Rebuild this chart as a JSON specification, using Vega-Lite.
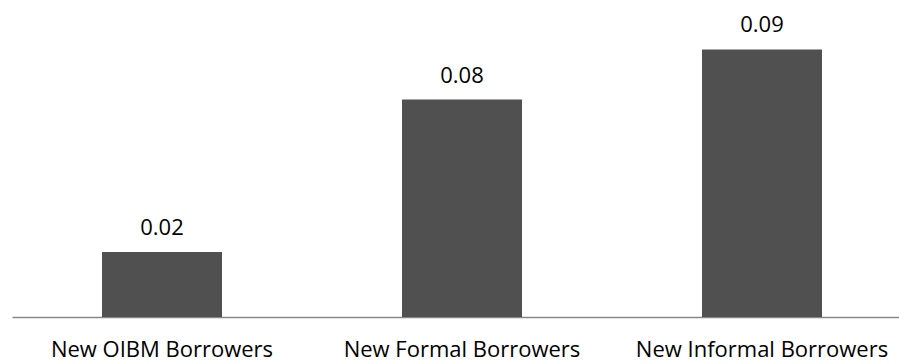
{
  "$schema": "https://vega.github.io/schema/vega-lite/v6.json",
  "autosize": {"type": "none"},
  "width": 900,
  "height": 285,
  "padding": {"left": 12, "top": 32, "right": 0, "bottom": 47},
  "background": "white",
  "config": {
    "view": {"stroke": null},
    "font": "Open Sans"
  },
  "data": {
    "values": [
      {"group": "New OIBM Borrowers", "share": 0.0228},
      {"group": "New Formal Borrowers", "share": 0.0763},
      {"group": "New Informal Borrowers", "share": 0.0939}
    ]
  },
  "encoding": {
    "x": {
      "field": "group",
      "type": "nominal",
      "sort": null,
      "scale": {"paddingInner": 0, "paddingOuter": 0},
      "axis": {
        "title": null,
        "labelAngle": 0,
        "labelFontSize": 22,
        "labelLimit": 0,
        "labelColor": "#000000",
        "labelPadding": 22,
        "ticks": false,
        "domainColor": "#888888",
        "domainWidth": 1.5
      }
    },
    "y": {
      "field": "share",
      "type": "quantitative",
      "scale": {"domain": [0, 0.1]},
      "axis": null
    }
  },
  "layer": [
    {
      "mark": {"type": "bar", "width": {"band": 0.4}, "color": "#505050"}
    },
    {
      "mark": {"type": "text", "baseline": "bottom", "dy": -12, "fontSize": 22, "color": "#000000"},
      "encoding": {
        "text": {"field": "share", "type": "quantitative", "format": ".2f"}
      }
    }
  ]
}
